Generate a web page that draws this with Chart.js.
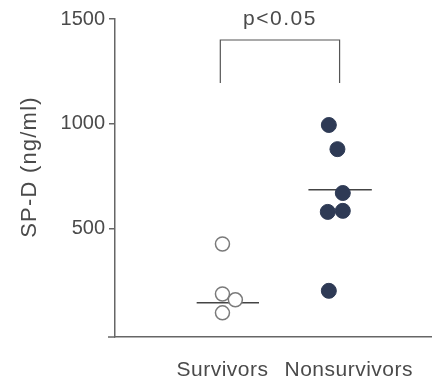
<!DOCTYPE html>
<html>
<head>
<meta charset="utf-8">
<script src="https://cdn.jsdelivr.net/npm/chart.js@4"></script>
<style>
  html, body { margin: 0; padding: 0; background: #fff; }
  #wrap { width: 432px; height: 386px; }
</style>
</head>
<body>
<div id="wrap"><canvas id="chart" width="432" height="386"></canvas></div>
<script>
const categories = ['Survivors', 'Nonsurvivors'];
const yTicks = [500, 1000, 1500];
const yTitle = 'SP-D (ng/ml)';

// x = group position (1, 2) plus visual jitter
const survivorsX = [1.0, 1.0, 1.12, 1.0];
const survivorsY = [428, 190, 162, 100];
const nonsurvivorsX = [1.99, 2.07, 2.12, 1.98, 2.12, 1.99];
const nonsurvivorsY = [995, 880, 671, 581, 586, 205];

const medianX = [[0.76, 1.34], [1.8, 2.39]];
const medianY = [148, 686];

const bracketX = [0.98, 2.09];
const bracketY = [1195, 1400];
const pText = 'p<0.05';

const textColor = '#4a4a4a';
const axisColor = '#666';
const fontFamily = '"Liberation Sans", Arial, Helvetica, sans-serif';

const pts = (xs, ys) => xs.map((x, i) => ({ x, y: ys[i] }));

// p-value above the bracket, group names under the x axis, y title
const annotations = {
  id: 'annotations',
  afterDatasetsDraw(chart) {
    const { ctx, scales, chartArea } = chart;
    ctx.save();
    ctx.fillStyle = textColor;
    ctx.strokeStyle = axisColor;
    ctx.lineWidth = 1.5;

    // x axis runs a little past the y axis
    ctx.beginPath();
    ctx.moveTo(chartArea.left - 7, chartArea.bottom);
    ctx.lineTo(chartArea.left, chartArea.bottom);
    ctx.stroke();

    ctx.font = '21px ' + fontFamily;
    ctx.letterSpacing = '1.5px';
    ctx.textBaseline = 'bottom';
    ctx.textAlign = 'center';
    const px = (scales.x.getPixelForValue(bracketX[0]) + scales.x.getPixelForValue(bracketX[1])) / 2;
    ctx.fillText(pText, px, scales.y.getPixelForValue(bracketY[1]) - 10);

    ctx.letterSpacing = '0.5px';
    ctx.textBaseline = 'middle';
    const ly = chartArea.bottom + 33;
    const x1 = scales.x.getPixelForValue(1);
    ctx.fillText(categories[0], x1, ly);
    const end1 = x1 + ctx.measureText(categories[0]).width / 2;
    ctx.textAlign = 'left';
    ctx.fillText(categories[1], end1 + 16, ly);

    ctx.font = '22px ' + fontFamily;
    ctx.letterSpacing = '1.2px';
    ctx.textAlign = 'center';
    ctx.translate(30, (chartArea.top + chartArea.bottom) / 2 - 11);
    ctx.rotate(-Math.PI / 2);
    ctx.fillText(yTitle, 0, 0);
    ctx.restore();
  },
};

new Chart(document.getElementById('chart'), {
  type: 'scatter',
  data: {
    datasets: [
      {
        label: categories[0],
        data: pts(survivorsX, survivorsY),
        pointRadius: 7,
        backgroundColor: '#fff',
        borderColor: '#7a7a7a',
        borderWidth: 1.5,
      },
      {
        label: categories[1],
        data: pts(nonsurvivorsX, nonsurvivorsY),
        pointRadius: 7.5,
        backgroundColor: '#2e3a55',
        borderColor: '#2e3a55',
        borderWidth: 1,
      },
      ...medianX.map((xs, i) => ({
        type: 'line',
        data: xs.map((x) => ({ x, y: medianY[i] })),
        borderColor: '#444',
        borderWidth: 1.5,
        pointRadius: 0,
      })),
      {
        type: 'line',
        data: [
          { x: bracketX[0], y: bracketY[0] },
          { x: bracketX[0], y: bracketY[1] },
          { x: bracketX[1], y: bracketY[1] },
          { x: bracketX[1], y: bracketY[0] },
        ],
        borderColor: '#555',
        borderWidth: 1.2,
        pointRadius: 0,
        fill: false,
      },
    ],
  },
  options: {
    responsive: false,
    animation: false,
    layout: { autoPadding: false, padding: { top: 19, right: 0, left: 0, bottom: 0 } },
    plugins: { legend: { display: false }, tooltip: { enabled: false } },
    scales: {
      x: {
        type: 'linear',
        min: 0,
        max: 2.95,
        afterFit: (s) => { s.height = 49; s.paddingLeft = 0; s.paddingRight = 0; },
        ticks: { display: false },
        grid: { display: false, drawTicks: false },
        border: { display: true, color: axisColor, width: 1.5 },
      },
      y: {
        min: -15,
        max: 1500,
        afterBuildTicks: (s) => { s.ticks = yTicks.map((v) => ({ value: v })); },
        afterFit: (s) => { s.width = 115; },
        ticks: {
          callback: (v) => String(v),
          color: textColor,
          font: { family: fontFamily, size: 20 },
          padding: 4,
        },
        grid: { drawOnChartArea: false, tickLength: 6, color: axisColor, lineWidth: 1.5 },
        border: { display: true, color: axisColor, width: 1.5 },
        title: { display: false },
      },
    },
  },
  plugins: [annotations],
});
</script>
</body>
</html>
